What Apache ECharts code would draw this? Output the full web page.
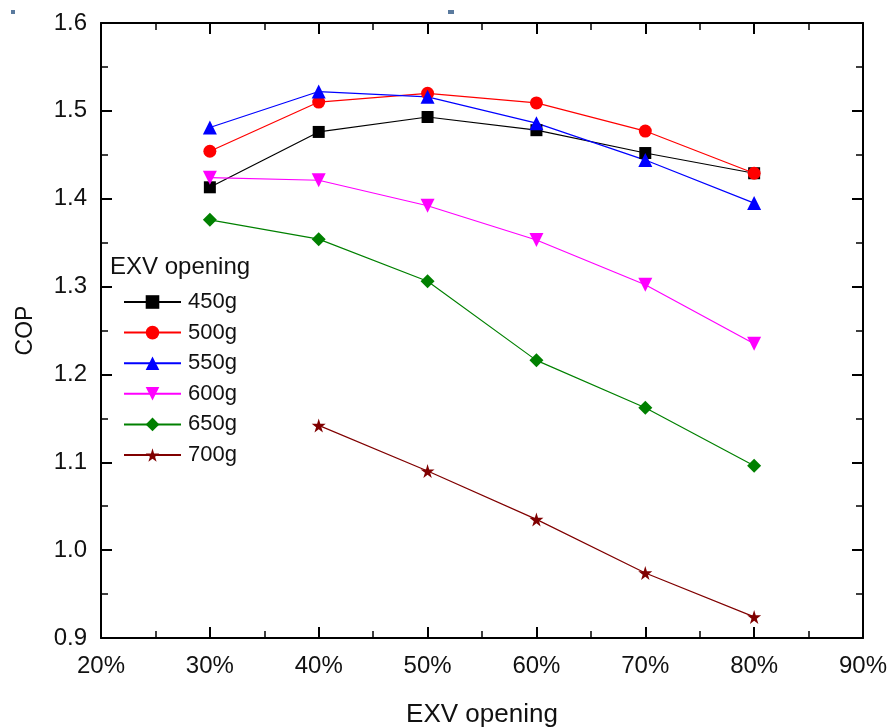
<!DOCTYPE html>
<html>
<head>
<meta charset="utf-8">
<script src="https://cdn.jsdelivr.net/npm/echarts@6/dist/echarts.min.js"></script>
<style>
  html, body { margin: 0; padding: 0; background: #fff; }
  #chart { width: 889px; height: 728px; }
</style>
</head>
<body>
<div id="chart"></div>
<script>
// EXV opening (%) on the x axis
const openings = [30, 40, 50, 60, 70, 80];
const openings700 = [40, 50, 60, 70, 80];

// COP per refrigerant charge
const cop450 = [1.413, 1.476, 1.493, 1.478, 1.452, 1.429];
const cop500 = [1.454, 1.510, 1.520, 1.509, 1.477, 1.429];
const cop550 = [1.481, 1.522, 1.516, 1.486, 1.444, 1.395];
const cop600 = [1.424, 1.421, 1.392, 1.353, 1.302, 1.235];
const cop650 = [1.376, 1.354, 1.306, 1.216, 1.162, 1.096];
const cop700 = [1.142, 1.090, 1.035, 0.974, 0.924];

const FONT = '"Liberation Sans", Arial, sans-serif';

function pairs(xs, ys) {
  return xs.map((x, i) => [x, ys[i]]);
}

function makeSeries(name, xs, ys, color, symbol, size) {
  return {
    name: name,
    type: 'line',
    xAxisIndex: 0,
    yAxisIndex: 0,
    data: pairs(xs, ys),
    symbol: symbol,
    symbolSize: size,
    itemStyle: { color: color },
    lineStyle: { color: color, width: 1.2 },
    emphasis: { disabled: true },
    animation: false
  };
}

const starPath = 'path://M50,0 L61,35 L98,35 L68,57 L79,91 L50,70 L21,91 L32,57 L2,35 L39,35 Z';

const chart = echarts.init(document.getElementById('chart'));

const axisLine = { show: true, onZero: false, lineStyle: { color: '#000', width: 2 } };
const axisTick = { show: true, inside: true, length: 11, lineStyle: { color: '#000', width: 2 } };
const minorTick = { show: true, splitNumber: 2, length: 7, lineStyle: { color: '#000', width: 1.5 } };

chart.setOption({
  backgroundColor: '#fff',
  animation: false,
  grid: { left: 101, right: 26, top: 23, bottom: 90, containLabel: false, outerBoundsMode: 'none' },
  xAxis: [
    {
      type: 'value', min: 20, max: 90, interval: 10, position: 'bottom',
      name: 'EXV opening', nameLocation: 'middle', nameGap: 64,
      nameTextStyle: { fontFamily: FONT, fontSize: 26, color: '#111' },
      axisLine: axisLine, axisTick: axisTick, minorTick: minorTick,
      splitLine: { show: false },
      axisLabel: { formatter: '{value}%', fontFamily: FONT, fontSize: 24, color: '#111', margin: 16 }
    },
    {
      type: 'value', min: 20, max: 90, interval: 10, position: 'top',
      axisLine: axisLine, axisTick: axisTick, minorTick: minorTick,
      splitLine: { show: false }, axisLabel: { show: false }
    }
  ],
  yAxis: [
    {
      type: 'value', min: 0.9, max: 1.6, interval: 0.1, position: 'left',
      name: 'COP', nameLocation: 'middle', nameGap: 64,
      nameTextStyle: { fontFamily: FONT, fontSize: 23, color: '#111' },
      axisLine: axisLine, axisTick: axisTick, minorTick: minorTick,
      splitLine: { show: false },
      axisLabel: { formatter: v => v.toFixed(1), fontFamily: FONT, fontSize: 24, color: '#111', margin: 14 }
    },
    {
      type: 'value', min: 0.9, max: 1.6, interval: 0.1, position: 'right',
      axisLine: axisLine, axisTick: axisTick, minorTick: minorTick,
      splitLine: { show: false }, axisLabel: { show: false }
    }
  ],
  legend: {
    orient: 'vertical',
    left: 123,
    top: 291,
    padding: 0,
    itemWidth: 57,
    itemHeight: 17,
    itemGap: 8.6,
    selectedMode: false,
    textStyle: { fontFamily: FONT, fontSize: 22, color: '#111', lineHeight: 22, padding: [0, 0, 0, 2] },
    data: ['450g', '500g', '550g', '600g', '650g', '700g']
  },
  graphic: [
    {
      type: 'text', left: 110, top: 255,
      style: { text: 'EXV opening', fontFamily: FONT, fontSize: 24, fill: '#111' }
    },
    { type: 'rect', left: 11, top: 10, shape: { width: 4, height: 4 }, style: { fill: '#5a7a9e' } },
    { type: 'rect', left: 448, top: 10, shape: { width: 6, height: 4 }, style: { fill: '#5a7a9e' } }
  ],
  series: [
    makeSeries('450g', openings, cop450, '#000000', 'rect', 12),
    makeSeries('500g', openings, cop500, '#ff0000', 'circle', 13),
    makeSeries('550g', openings, cop550, '#0000ff', 'triangle', 14),
    makeSeries('600g', openings, cop600, '#ff00ff', 'path://M0,0 L100,0 L50,87 Z', 14),
    makeSeries('650g', openings, cop650, '#008000', 'diamond', 14),
    makeSeries('700g', openings700, cop700, '#800000', starPath, 14)
  ]
});
</script>
</body>
</html>
